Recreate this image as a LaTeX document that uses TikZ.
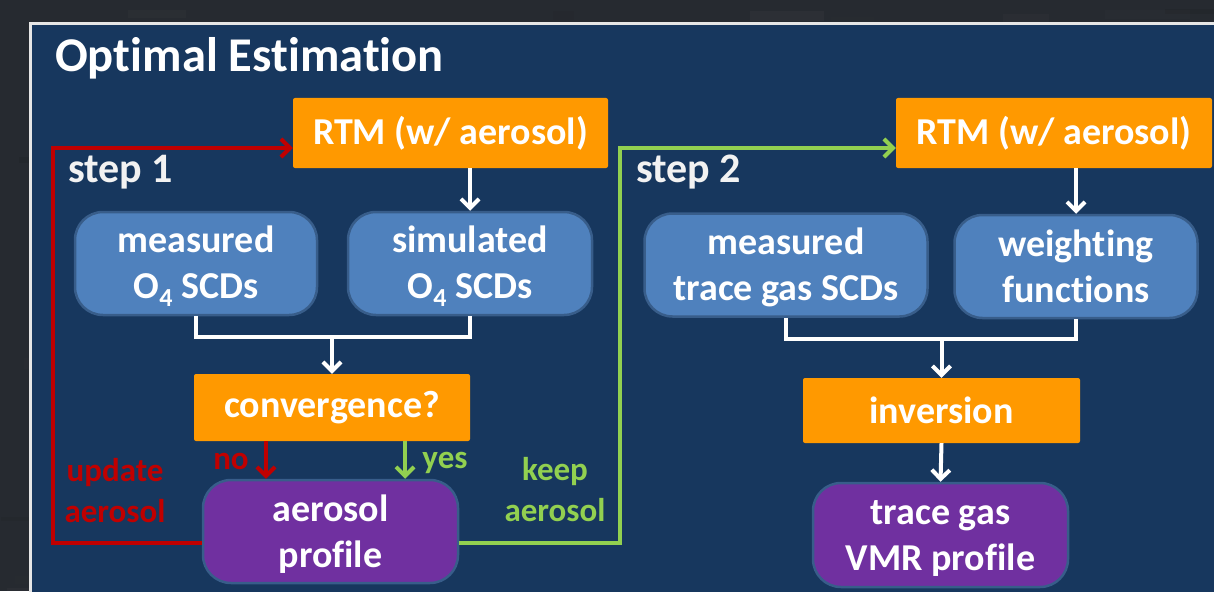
\documentclass[tikz,border=0pt]{standalone}
\usepackage{fontspec}
\setmainfont{Carlito}[Ligatures=NoCommon]
\usetikzlibrary{arrows.meta,calc}
\definecolor{bgdark}{RGB}{38,42,48}
\definecolor{panelblue}{HTML}{17375E}
\definecolor{panelline}{HTML}{E6E6E6}
\definecolor{orng}{HTML}{FF9900}
\definecolor{boxblue}{HTML}{4F81BD}
\definecolor{boxline}{HTML}{385D8A}
\definecolor{purp}{HTML}{7030A0}
\definecolor{loopred}{HTML}{C00000}
\definecolor{loopgreen}{HTML}{92D050}
\definecolor{steptext}{HTML}{F2F2F2}
\newcommand\subfour{\raisebox{-0.2em}{\fontsize{26}{26}\selectfont 4}}
\newcommand\vstrut{\rule[-7pt]{0pt}{39pt}}
\begin{document}
\begin{tikzpicture}[x=1pt,y=-1pt,
  boxfont/.style={font=\bfseries\fontsize{38}{46}\selectfont},
  stepfont/.style={font=\bfseries\fontsize{42}{48}\selectfont},
  lblfont/.style={font=\bfseries\fontsize{33}{41}\selectfont},
  orangebox/.style={boxfont, fill=orng, text=white, inner sep=0pt, rounded corners=2pt, align=center},
  bluebox/.style={boxfont, fill=boxblue, draw=boxline, line width=2.5pt, text=white, inner sep=0pt, rounded corners=28pt, align=center},
  purplebox/.style={boxfont, fill=purp, draw=boxline, line width=2.5pt, text=white, inner sep=0pt, rounded corners=28pt, align=center},
  tipv/.style={-{Straight Barb[length=9pt,width=18pt]}},
  wline/.style={draw=white, line width=4pt},
  warrow/.style={wline, tipv},
  rline/.style={draw=loopred, line width=4pt},
  gline/.style={draw=loopgreen, line width=4pt}
]
\useasboundingbox (0,0) rectangle (1214,591);
% textured surround
\fill[bgdark] (0,0) rectangle (1214,591);
\begin{scope}
\clip (0,0) rectangle (1214,591);
\pgfmathsetseed{11}
\foreach \k in {1,...,160}{
  \pgfmathsetmacro\xx{rnd*1214}
  \pgfmathsetmacro\yy{rnd*591}
  \pgfmathsetmacro\ww{20+rnd*70}
  \pgfmathsetmacro\hh{3+rnd*8}
  \pgfmathsetmacro\ss{rnd*100}
  \fill[black!\ss!gray, opacity=0.07] (\xx,\yy) rectangle ++(\ww,\hh);
}
\end{scope}
% panel
\fill[panelblue] (30.5,24) rectangle (1220,600);
\draw[panelline, line width=3pt] (30.5,600) -- (30.5,24) -- (1220,24);

% title and step labels
\node[anchor=base west, text=white, font=\bfseries\fontsize{48.5}{56}\selectfont, inner sep=0pt] (title) at (55,72) {Optimal Estimation};
\node[anchor=base west, text=steptext, stepfont, inner sep=0pt] (step1) at (68,182) {step 1};
\node[anchor=base west, text=steptext, stepfont, inner sep=0pt] (step2) at (636,182) {step 2};

% nodes
\node[orangebox, minimum width=315pt, minimum height=70pt] (rtm1) at (450.5,133) {RTM (w/ aerosol)};
\node[orangebox, minimum width=316pt, minimum height=70pt] (rtm2) at (1054,133) {RTM (w/ aerosol)};
\node[bluebox, minimum width=242pt, minimum height=103pt] (meas1) at (196,263.5) {\vstrut measured\\\vstrut O\subfour{} SCDs};
\node[bluebox, minimum width=244pt, minimum height=103pt] (sim1) at (470,263.5) {\vstrut simulated\\\vstrut O\subfour{} SCDs};
\node[bluebox, minimum width=283pt, minimum height=103pt] (meas2) at (786,265) {\vstrut measured\\\vstrut trace gas SCDs};
\node[bluebox, minimum width=243pt, minimum height=103pt] (wf) at (1076,266.5) {\vstrut weighting\\\vstrut functions};
\node[orangebox, minimum width=276pt, minimum height=67pt] (conv) at (332,407.5) {convergence?};
\node[purplebox, minimum width=255pt, minimum height=103pt] (aer) at (330.5,531.5) {\vstrut aerosol\\\vstrut profile};
\node[orangebox, minimum width=277pt, minimum height=65pt] (inv) at (941.5,410.5) {inversion};
\node[purplebox, minimum width=255pt, minimum height=104pt] (tg) at (940.5,535) {\vstrut trace gas\\\vstrut VMR profile};

% white connectors
\draw[warrow] (sim1.north |- rtm1.south) -- (sim1.north);
\draw[warrow] (wf.north |- rtm2.south) -- (wf.north);
\coordinate (j1) at (332,337);
\draw[wline] (meas1.south) |- (j1) -| (sim1.south);
\draw[warrow] (j1) -- (conv.north);
\coordinate (j2) at (941.5,339);
\draw[wline] (meas2.south) |- (j2) -| (wf.south);
\draw[warrow] (j2) -- (inv.north);
\draw[warrow] (inv.south) -- (tg.north);

% convergence outcomes
\draw[rline, tipv] ([xshift=-66pt]conv.south) -- ([xshift=-66pt]conv.south |- aer.north);
\draw[gline, tipv] ([xshift=73pt]conv.south) -- ([xshift=73pt]conv.south |- aer.north);
\node[lblfont, text=loopred, anchor=base, inner sep=0pt] (nolbl) at (231,469) {no};
\node[lblfont, text=loopgreen, anchor=base, inner sep=0pt] (yeslbl) at (445,468) {yes};

% loops
\coordinate (rc) at (53,148);
\draw[rline, tipv] ([yshift=-11pt]aer.west) -| (rc) -- ([yshift=-15pt]rtm1.west);
\coordinate (gc) at (620,148);
\draw[gline, tipv] ([yshift=-11pt]aer.east) -| (gc) -- ([yshift=-15pt]rtm2.west);
\node[lblfont, text=loopred, anchor=base, inner sep=0pt, align=center] (updlbl) at (115,522) {update\\aerosol};
\node[lblfont, text=loopgreen, anchor=base, inner sep=0pt, align=center] (keeplbl) at (555,521) {keep\\aerosol};
\end{tikzpicture}
\end{document}
